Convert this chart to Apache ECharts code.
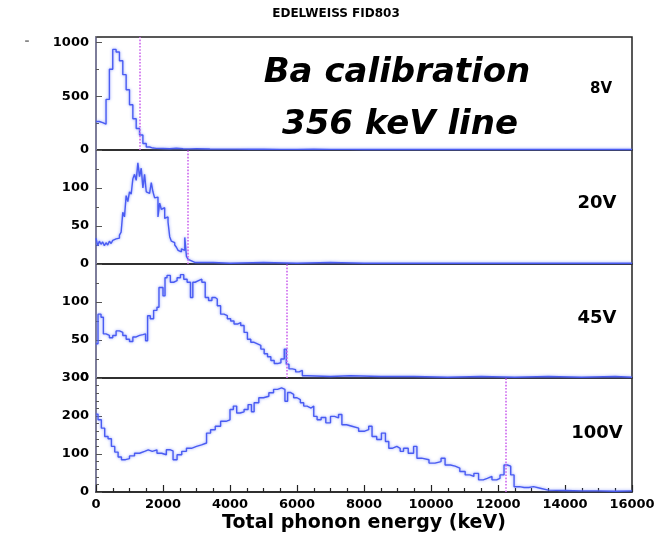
<!DOCTYPE html>
<html><head><meta charset="utf-8">
<script src="https://cdn.jsdelivr.net/npm/echarts@6/dist/echarts.min.js"></script>
<style>html,body{margin:0;padding:0;background:#fff}#c{width:668px;height:537px}</style>
</head><body><div id="c"></div>
<script>
// ---- data (bin start energies in keV, counts per bin) ----
const panelLabels = ['8V', '20V', '45V', '100V'];
const lineEnergies = [1305, 2729, 5696, 12222]; // 356 keV line position per bias
const xTickStep = 2000;
const yMaxes = [1050, 150, 150, 300];
const yIntervals = [500, 50, 50, 100];

const p1E = [0,100,200,300,400,500,600,700,800,900,1000,1100,1200,1300,1400,1500,1600,1700,1800,2000,2200,2400,2600,2800,3000,3400,3800,4200,4600,5000,5500,6000,6500,7000,7500,8000,9000,10000,11000,12000,13000,14000,15000];
const p1C = [265,255,240,470,750,935,910,830,700,560,420,290,200,140,60,28,18,15,14,12,16,12,10,11,9,8,8,7,8,6,6,7,6,6,5,6,5,6,5,6,5,4,5];

const p2E = [0,50,100,150,200,250,300,350,400,450,500,550,600,650,700,750,800,850,900,950,1000,1050,1100,1150,1200,1250,1300,1350,1400,1450,1500,1550,1600,1650,1700,1750,1800,1850,1900,1950,2000,2050,2100,2150,2200,2250,2300,2350,2400,2450,2500,2550,2600,2650,2700,2750,2800,2850,2900,2950,3000,3500,4000,5000,6000,7000,8000,10000,12000,14000];
const p2C = [34,24,30,26,29,24,28,25,30,27,31,33,35,34,38,42,68,62,90,82,95,92,112,118,110,133,115,126,100,118,95,93,92,107,95,87,88,62,80,72,74,60,62,55,36,30,28,25,22,18,16,20,18,35,10,6,4,3,2,2,2,1,2,1,2,1,1,1,1,1];

const p3E = [0,60,150,220,300,400,500,600,700,800,900,1000,1100,1200,1300,1400,1480,1540,1620,1720,1820,1880,2000,2060,2120,2220,2320,2420,2520,2620,2720,2820,2890,2960,3060,3160,3260,3360,3460,3560,3620,3720,3820,3920,4020,4120,4220,4320,4420,4520,4620,4720,4820,4920,5020,5120,5220,5320,5420,5520,5620,5680,5760,5860,5960,6060,6160,6300,7000,7600,8500,9500,10500,11500,12500,13500,14500,15500];
const p3C = [45,84,80,58,56,53,56,62,60,56,51,48,54,56,57,58,49,82,78,89,93,119,108,132,135,126,128,132,136,130,126,106,126,128,130,126,106,102,106,104,95,84,82,78,75,71,73,69,60,51,47,45,43,38,32,28,23,19,20,25,38,18,12,11,8,10,3,2,3,2,2,1,2,1,2,1,2,1];

const p4E = [0,60,160,260,360,460,560,660,760,880,1000,1150,1300,1450,1560,1680,1820,1960,2100,2220,2300,2420,2560,2700,2850,3000,3150,3300,3420,3560,3720,3880,4000,4100,4200,4300,4420,4540,4640,4720,4860,5000,5160,5300,5420,5540,5640,5720,5800,5900,6000,6100,6200,6300,6420,6500,6600,6720,6860,7000,7120,7240,7340,7480,7640,7840,8020,8140,8240,8380,8520,8640,8740,8840,8980,9080,9180,9320,9480,9580,9720,9940,10120,10300,10420,10580,10720,10860,11020,11160,11280,11420,11560,11680,11820,11960,12060,12180,12280,12380,12480,12640,12780,12920,13060,13260,13500,14000,14500,15000,15500];
const p4C = [205,190,168,146,140,120,105,92,85,88,95,102,107,111,107,111,102,98,111,108,85,98,107,115,120,124,129,155,164,173,186,190,217,226,208,211,217,230,211,235,248,252,261,270,274,270,239,262,257,248,243,235,226,221,226,199,190,196,182,199,195,204,177,173,168,160,164,173,146,138,155,133,115,120,115,107,115,102,120,89,85,76,80,89,71,68,63,54,45,41,49,32,36,41,32,36,45,71,68,45,14,12,12,14,10,5,4,3,3,2,3];

const xMax = 16000;
const energies = [p1E, p2E, p3E, p4E];
const counts = [p1C, p2C, p3C, p4C];

// ---- layout ----
const L = 96, W = 536;
const tops = [37, 150, 264, 378];
const heights = [113, 114, 114, 114];
const minorSplits = [2, 2, 2, 5];
const FONT = 'DejaVu Sans';
const plain = v => String(v);

const grids = [], xAxes = [], yAxes = [], series = [];
for (let i = 0; i < 4; i++) {
  const last = i === 3;
  grids.push({left: L, top: tops[i], width: W, height: heights[i], show: true,
    borderColor: '#222', borderWidth: 1.5, backgroundColor: 'transparent'});
  xAxes.push({type: 'value', gridIndex: i, min: 0, max: xMax, interval: xTickStep,
    axisLine: {show: last, onZero: false, lineStyle: {color: '#222', width: 1.5}},
    axisTick: {show: last, inside: true, length: 7, lineStyle: {color: '#222', width: 1.2}},
    minorTick: {show: last, splitNumber: 4, length: 4, lineStyle: {color: '#222', width: 1.2}},
    axisLabel: {show: last, margin: 6, color: '#000', fontFamily: FONT, fontWeight: 'bold', fontSize: 13, formatter: plain},
    splitLine: {show: false},
    name: last ? 'Total phonon energy (keV)' : '', nameLocation: 'middle', nameGap: 22,
    nameTextStyle: {color: '#000', fontFamily: FONT, fontWeight: 'bold', fontSize: 19}
  });
  yAxes.push({type: 'value', gridIndex: i, min: 0, max: yMaxes[i], interval: yIntervals[i],
    axisLine: {show: true, lineStyle: {color: '#8a8ab0', width: 1.5}},
    axisTick: {show: true, inside: true, length: 6, lineStyle: {color: '#555'}},
    minorTick: {show: true, splitNumber: minorSplits[i], length: 3, lineStyle: {color: '#555'}},
    axisLabel: {margin: 7, color: '#000', fontFamily: FONT, fontWeight: 'bold', fontSize: 13,
      showMaxLabel: last, showMinLabel: true, formatter: plain},
    splitLine: {show: false}
  });
  const E = energies[i], C = counts[i];
  const data = E.map((e, k) => [e, C[k]]);
  data.push([xMax, C[C.length - 1]]);
  series.push({type: 'line', xAxisIndex: i, yAxisIndex: i, step: 'end', data: data,
    showSymbol: false, symbol: 'none', animation: false, z: 3,
    lineStyle: {color: '#4a5cf2', width: 1.4, shadowBlur: 3, shadowColor: 'rgba(110,130,255,0.8)'},
    markLine: {silent: true, symbol: ['none', 'none'], animation: false, label: {show: false},
      lineStyle: {type: 'dotted', color: '#cc66ee', width: 1.6},
      data: [{xAxis: lineEnergies[i]}]}
  });
}

const labelPos = [[601, 89, 15], [597, 203, 18], [597, 318, 18], [597, 433, 18]];
const gtexts = [
  {x: 336, y: 14, text: 'EDELWEISS FID803', size: 12, style: 'normal'},
  {x: 397, y: 73, text: 'Ba calibration', size: 34, style: 'italic'},
  {x: 400, y: 125, text: '356 keV line', size: 34, style: 'italic'},
  {x: 27, y: 42, text: '-', size: 12, style: 'normal', color: '#888'}
];
for (let i = 0; i < 4; i++) {
  gtexts.push({x: labelPos[i][0], y: labelPos[i][1], text: panelLabels[i], size: labelPos[i][2], style: 'normal'});
}

const chart = echarts.init(document.getElementById('c'), null, {renderer: 'canvas'});
chart.setOption({
  animation: false,
  backgroundColor: '#fff',
  grid: grids, xAxis: xAxes, yAxis: yAxes, series: series,
  graphic: gtexts.map(t => ({type: 'text', x: t.x, y: t.y, z: 10,
    style: {text: t.text, fill: t.color || '#000', font: t.style + ' bold ' + t.size + 'px "' + FONT + '"',
      textAlign: 'center', textVerticalAlign: 'middle'}}))
});
</script></body></html>
